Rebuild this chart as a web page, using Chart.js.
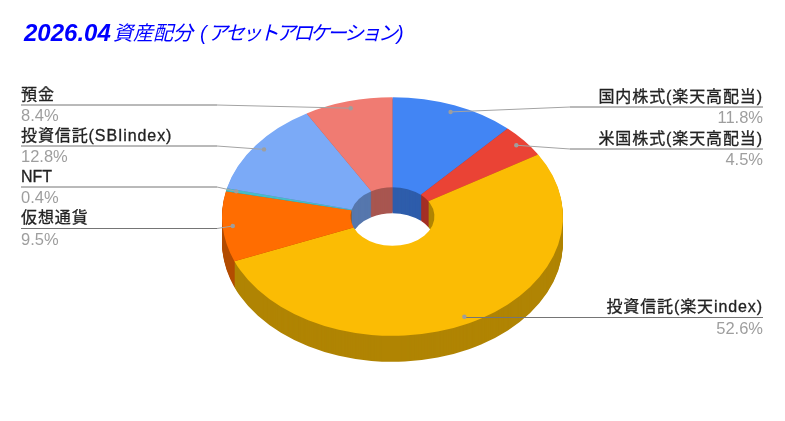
<!DOCTYPE html>
<html>
<head>
<meta charset="utf-8">
<style>
  html, body { margin: 0; padding: 0; background: #fff; }
  canvas { display: block; }
</style>
<script src="https://cdn.jsdelivr.net/npm/chart.js@4"></script>
</head>
<body>
<canvas id="grafico" width="785" height="421"></canvas>
<script>
const categorias = ["国内株式(楽天高配当)", "米国株式(楽天高配当)", "投資信託(楽天index)", "仮想通貨", "NFT", "投資信託(SBIindex)", "預金"];
const valores = [11.8, 4.5, 52.6, 9.5, 0.4, 12.8, 8.4];
const cores = ["#4285f4", "#ea4335", "#fbbc04", "#ff6d01", "#46bdc6", "#7baaf7", "#f07b72"];

// side of the page and y of the horizontal part of each leader, same order as categorias
const lados = ["r", "r", "r", "l", "l", "l", "l"];
const linhaY = [107, 149, 317.5, 228.5, 187, 146, 105];
const FONTE = '"Liberation Sans", "Noto Sans CJK JP", sans-serif';

const CX = 392.5, CY = 216.5, ACHATADO = 0.7, ALTURA = 26;

function escurecer(hex) {
  const n = parseInt(hex.slice(1), 16);
  const f = c => Math.round(c * 0.7);
  return `rgb(${f(n >> 16)},${f((n >> 8) & 255)},${f(n & 255)})`;
}

function inclinar(chart, ctx, dy) {
  const a = chart.chartArea;
  ctx.translate(CX, CY + dy);
  ctx.scale(1, ACHATADO);
  ctx.translate(-(a.left + a.right) / 2, -(a.top + a.bottom) / 2);
}

const pizza3d = {
  id: "pizza3d",
  beforeDatasetsDraw(chart) {
    const ctx = chart.ctx;
    const arcos = chart.getDatasetMeta(0).data;
    for (let d = ALTURA; d >= 1; d--) {
      ctx.save();
      inclinar(chart, ctx, d);
      arcos.forEach((arco, i) => {
        const original = arco.options;
        arco.options = Object.assign({}, original, { backgroundColor: escurecer(cores[i]) });
        arco.draw(ctx);
        arco.options = original;
      });
      ctx.restore();
    }
    ctx.save();
    inclinar(chart, ctx, 0);
  },
  afterDatasetsDraw(chart) {
    chart.ctx.restore();
  }
};

const rotulos = {
  id: "rotulos",
  afterDraw(chart) {
    const ctx = chart.ctx;
    ctx.save();

    // title: the reference mixes a heavy latin run with a lighter, tighter kana run
    ctx.textBaseline = "alphabetic";
    ctx.textAlign = "left";
    ctx.fillStyle = "#0000ff";
    ctx.font = "italic bold 24px " + FONTE;
    ctx.fillText("2026.04", 24, 41);
    ctx.font = "italic 20px " + FONTE;
    ctx.fillText("資産配分", 113, 40);
    ctx.fillText("(", 200, 40);
    ctx.letterSpacing = "-3px";
    ctx.fillText("アセットアロケーション", 208, 40);
    ctx.letterSpacing = "0px";
    ctx.fillText(")", 397, 40);

    chart.getDatasetMeta(0).data.forEach((arco, i) => {
      const meio = (arco.startAngle + arco.endAngle) / 2;
      const r = arco.outerRadius * 0.94;
      const px = CX + Math.cos(meio) * r;
      const py = CY + Math.sin(meio) * r * ACHATADO;
      const direita = lados[i] === "r";
      const fimX = direita ? 763 : 21;
      const cotoveloX = i === 2 ? px : (direita ? 570 : 217);
      const y = linhaY[i];

      ctx.lineWidth = 1;
      ctx.strokeStyle = "#a3a3a3";
      ctx.beginPath();
      ctx.moveTo(px, py);
      ctx.lineTo(cotoveloX, y);
      ctx.stroke();
      ctx.strokeStyle = "#757575";
      ctx.beginPath();
      ctx.moveTo(cotoveloX, y);
      ctx.lineTo(fimX, y);
      ctx.stroke();

      ctx.fillStyle = "#9e9e9e";
      ctx.beginPath();
      ctx.arc(px, py, 2.2, 0, Math.PI * 2);
      ctx.fill();

      const nome = categorias[i];
      ctx.textAlign = direita ? "right" : "left";
      ctx.font = "16px " + FONTE;
      ctx.letterSpacing = /[^\x00-\x7f]/.test(nome) ? "0.9px" : "0px";
      ctx.fillStyle = "#222222";
      ctx.strokeStyle = "#222222";
      ctx.lineWidth = 0.3;
      ctx.fillText(nome, fimX, y - 5.5);
      ctx.strokeText(nome, fimX, y - 5.5);
      ctx.letterSpacing = "0px";
      ctx.font = "16.5px " + FONTE;
      ctx.fillStyle = "#9e9e9e";
      ctx.fillText(valores[i].toFixed(1) + "%", fimX, y + 16);
    });
    ctx.restore();
  }
};

new Chart(document.getElementById("grafico"), {
  type: "doughnut",
  data: {
    labels: categorias,
    datasets: [{
      data: valores,
      backgroundColor: cores,
      borderWidth: 0,
      radius: 170.5,
      cutout: "24.6%",
      clip: false
    }]
  },
  options: {
    responsive: false,
    animation: false,
    events: [],
    layout: { padding: 0 },
    plugins: { legend: { display: false }, title: { display: false }, tooltip: { enabled: false } }
  },
  plugins: [pizza3d, rotulos]
});
</script>
</body>
</html>
